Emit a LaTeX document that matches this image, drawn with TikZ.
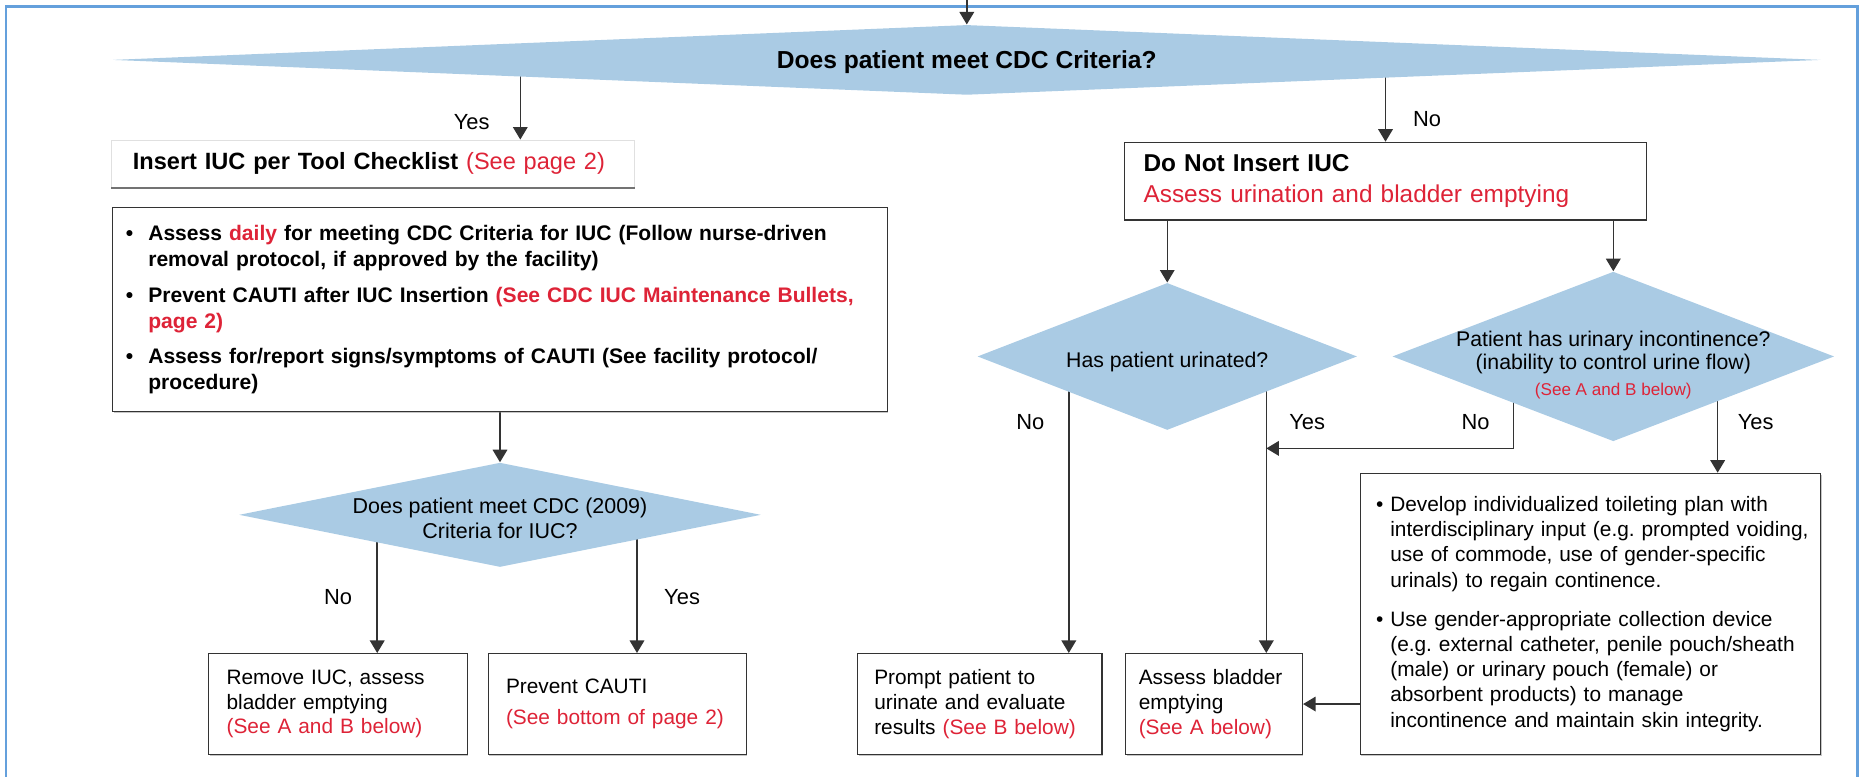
\documentclass[tikz,border=0pt]{standalone}
\usepackage{fontspec}
\setmainfont{Liberation Sans}
\usetikzlibrary{positioning, calc, arrows.meta, shapes.geometric, backgrounds, shadows}
\definecolor{diablue}{RGB}{170,203,228}
\definecolor{seered}{RGB}{222,35,55}
\definecolor{frameblue}{RGB}{100,160,220}
\newcommand{\itembul}[1][0.38cm]{\makebox[#1][l]{\textbullet}}
\newcommand{\itemcont}[1][0.38cm]{\hspace*{#1}}
\frenchspacing

\begin{document}
\begin{tikzpicture}[x=0.02cm, y=-0.02cm, >={Triangle[width=7pt,length=6pt]},
    box/.style={draw=black!80, line width=0.6pt, fill=white, align=left, inner ysep=0pt,
        drop shadow={shadow xshift=0.4pt, shadow yshift=-0.7pt, opacity=0.45}},
    dia/.style={diamond, fill=diablue, inner sep=0pt},
    qtext/.style={align=center, inner sep=0pt, font=\fontsize{10.2}{12.3}\selectfont},
    yn/.style={inner sep=0pt, font=\fontsize{10.5}{12}\selectfont},
    arr/.style={->, draw=black!80, line width=0.7pt}]
    \useasboundingbox (0,0) rectangle (1568,655);

    % first question
    \coordinate (topin) at (815,0);
    \node[dia, minimum width=28.8cm, minimum height=1.18cm] (cdc) at (815,50.5) {};
    \node[qtext, font=\fontsize{11.8}{14}\selectfont\bfseries] (cdctext) at (815,52) {Does patient meet CDC Criteria?};

    % yes branch
    \node[draw=black!12, fill=white, align=left, text width=8.1cm, inner xsep=0.36cm, inner ysep=0pt,
        minimum height=0.8cm, font=\fontsize{11.3}{14}\selectfont] (ins) at (314.5,138)
        {\mbox{\textbf{Insert IUC per Tool Checklist} \textcolor{seered}{(See page 2)}}};
    \draw[black!55, line width=1pt] (ins.south west) -- (ins.south east);
    \node[box, text width=12.62cm, inner xsep=0.22cm, minimum height=3.44cm,
        font=\fontsize{10.1}{12.5}\selectfont\bfseries] (chk) at (421.5,261)
        {\mbox{\itembul Assess \textcolor{seered}{daily} for meeting CDC Criteria for IUC (Follow nurse-driven}\\
         \itemcont removal protocol, if approved by the facility)\\[4.5pt]
         \mbox{\itembul Prevent CAUTI after IUC Insertion \textcolor{seered}{(See CDC IUC Maintenance Bullets,}}\\
         \itemcont \textcolor{seered}{page 2)}\\[4.5pt]
         \mbox{\itembul Assess for/report signs/symptoms of CAUTI (See facility protocol/}\\
         \itemcont procedure)};
    \node[dia, minimum width=8.8cm, minimum height=1.76cm] (d2) at (421.5,434) {};
    \node[qtext, font=\fontsize{10.3}{12.3}\selectfont] (d2text) at (421.5,437) {Does patient meet CDC (2009)\\Criteria for IUC?};
    \node[box, text width=3.76cm, inner xsep=0.3cm, minimum height=1.7cm,
        font=\fontsize{10}{11.8}\selectfont] (rem) at (285,593.5)
        {Remove IUC, assess\\bladder emptying\\\textcolor{seered}{(See A and B below)}};
    \node[box, text width=3.75cm, inner xsep=0.3cm, minimum height=1.7cm,
        font=\fontsize{10}{11.8}\selectfont] (prev) at (520.3,593.5)
        {Prevent CAUTI\\[3.2pt]\mbox{\textcolor{seered}{(See bottom of page 2)}}};

    % no branch
    \node[box, text width=8.16cm, inner xsep=0.32cm, minimum height=1.31cm,
        font=\fontsize{11.7}{15}\selectfont] (notins) at (1168,152.75)
        {\textbf{Do Not Insert IUC}\\\textcolor{seered}{Assess urination and bladder emptying}};
    \node[dia, minimum width=6.4cm, minimum height=2.48cm] (d3) at (984,300.5) {};
    \node[qtext] (d3text) at (984,305) {Has patient urinated?};
    \node[dia, minimum width=7.45cm, minimum height=2.86cm] (d4) at (1360,300.5) {};
    \node[qtext, font=\fontsize{10.2}{10.8}\selectfont] (d4text) at (1360,308)
        {Patient has urinary incontinence?\\(inability to control urine flow)\\[2pt]
         {\fontsize{8.2}{9.8}\selectfont\textcolor{seered}{(See A and B below)}}};
    \node[box, text width=3.56cm, inner xsep=0.28cm, minimum height=1.7cm,
        font=\fontsize{10}{11.8}\selectfont] (prm) at (826,593.5)
        {Prompt patient to\\urinate and evaluate\\\mbox{results \textcolor{seered}{(See B below)}}};
    \node[box, text width=2.54cm, inner xsep=0.22cm, minimum height=1.7cm,
        font=\fontsize{10}{11.8}\selectfont] (asb) at (1023.5,593.5)
        {Assess bladder\\emptying\\\textcolor{seered}{(See A below)}};
    \node[box, text width=7.24cm, inner xsep=0.26cm, minimum height=4.74cm,
        font=\fontsize{10}{12.1}\selectfont] (tpl) at (1341,517.5)
        {\itembul[0.24cm]Develop individualized toileting plan with\\
         \mbox{\itemcont[0.24cm]interdisciplinary input (e.g. prompted voiding,}\\
         \itemcont[0.24cm]use of commode, use of gender-specific\\
         \itemcont[0.24cm]urinals) to regain continence.\\[6.6pt]
         \itembul[0.24cm]Use gender-appropriate collection device\\
         \mbox{\itemcont[0.24cm](e.g. external catheter, penile pouch/sheath}\\
         \itemcont[0.24cm](male) or urinary pouch (female) or\\
         \itemcont[0.24cm]absorbent products) to manage\\
         \mbox{\itemcont[0.24cm]incontinence and maintain skin integrity.}};

    % yes / no labels
    \node[yn] (lyes0) at (397.6,102.6) {Yes};
    \node[yn] (lno0) at (1203,100) {No};
    \node[yn] (lno2) at (285,503) {No};
    \node[yn] (lyes2) at (575,503) {Yes};
    \node[yn] (lno3) at (868.5,356) {No};
    \node[yn] (lyes3) at (1102,356) {Yes};
    \node[yn] (lno4) at (1244,356) {No};
    \node[yn] (lyes4) at (1480,356) {Yes};

    % branch columns
    \coordinate (yes0) at (438.6,0);
    \coordinate (no2) at (318,0);
    \coordinate (yes2) at (537,0);
    \coordinate (no3) at (901,0);
    \coordinate (yes3) at (1067.5,0);
    \coordinate (no4) at (1276,378);
    \coordinate (yes4) at (1448,0);

    \begin{scope}[on background layer]
        \draw[frameblue, line width=1.2pt] (5,655) -- (5,5.6) -- (1566,5.6) -- (1566,655);
        \draw[arr] (topin) -- (cdc.north);
        \draw[arr] (cdc.center -| yes0) -- (ins.north -| yes0);
        \draw[arr] (cdc.center -| notins.north) -- (notins.north);
        \draw[arr] (chk.south) -- (d2.north);
        \draw[arr] (d2.center -| no2) -- (rem.north -| no2);
        \draw[arr] (d2.center -| yes2) -- (prev.north -| yes2);
        \draw[arr] (notins.south -| d3.north) -- (d3.north);
        \draw[arr] (notins.south -| d4.north) -- (d4.north);
        \draw[arr] (d3.center -| no3) -- (prm.north -| no3);
        \draw[arr] (d3.center -| yes3) -- (asb.north -| yes3);
        \draw[arr] (d4.center -| no4) -- (no4) -- (no4 -| yes3);
        \draw[arr] (d4.center -| yes4) -- (tpl.north -| yes4);
        \draw[arr] (tpl.west |- asb.east) -- (asb.east);
    \end{scope}
\end{tikzpicture}
\end{document}
